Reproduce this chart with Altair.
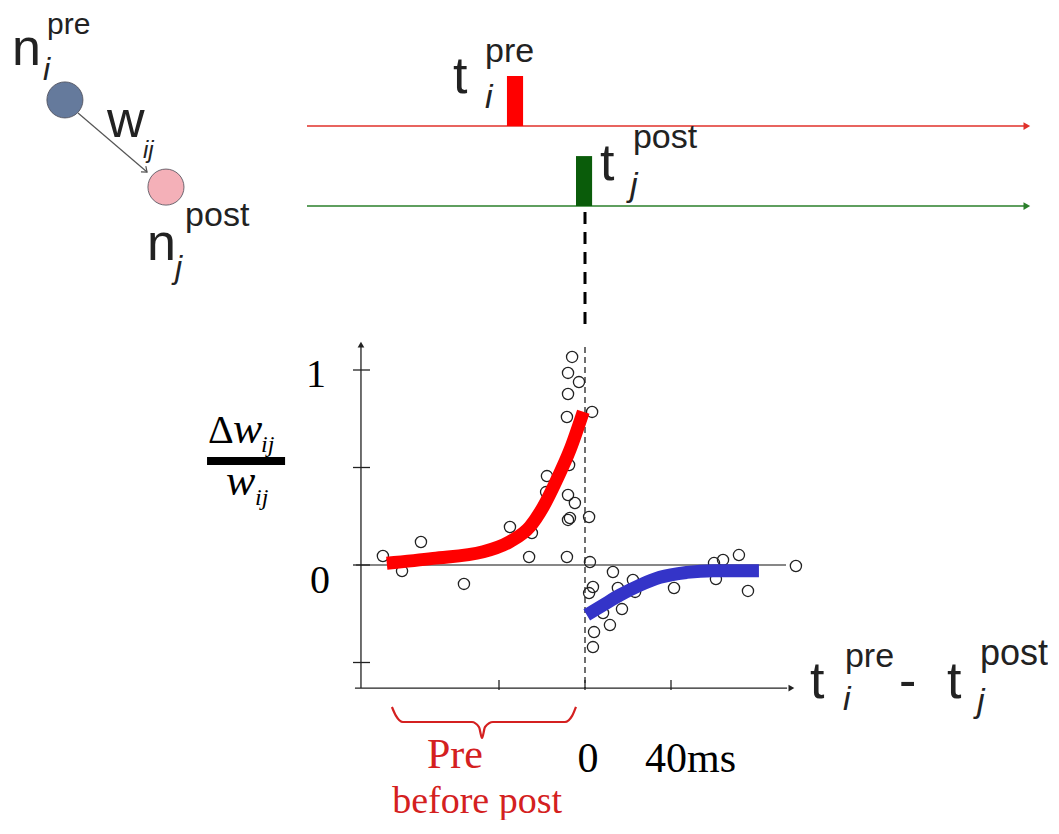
import altair as alt
import pandas as pd

# ---------------- chart data ----------------
# spike-timing difference t_pre - t_post (ms) and relative weight change dw/w
pre_dt = [-94.0, -85.1, -76.3, -56.3, -34.9, -26.0, -24.7, -17.7, -18.1, -8.4,
          -7.9, -7.0, -7.9, -4.7, -7.4, -8.4, -6.0, -7.9, -2.8, -7.9]
pre_dw = [0.046, -0.031, 0.118, -0.097, 0.195, 0.041, 0.164, 0.456, 0.374, 0.041,
          0.231, 0.241, 0.359, 0.318, 0.513, 0.759, 1.067, 0.985, 0.938, 0.877]
post_dt = [3.3, 1.9, 2.3, 3.7, 1.9, 4.2, 3.7, 8.4, 11.6, 13.0, 22.3, 23.3, 15.3,
           17.2, 41.4, 60.0, 64.2, 71.6, 60.9, 75.8, 98.1]
post_dw = [0.785, 0.246, 0.015, -0.113, -0.144, -0.344, -0.421, -0.246, -0.308,
           -0.036, -0.077, -0.138, -0.118, -0.226, -0.118, 0.010, 0.026, 0.051,
           -0.072, -0.133, -0.005]

ltp_dt = [-92.2, -70.6, -47.3, -34.9, -25.6, -19.4, -13.2, -7.0, -0.8]
ltp_dw = [0.009, 0.034, 0.068, 0.120, 0.197, 0.299, 0.436, 0.590, 0.786]
ltd_dt = [0.8, 8.5, 16.3, 25.6, 34.9, 47.3, 59.7, 80.9]
ltd_dw = [-0.256, -0.205, -0.154, -0.103, -0.063, -0.038, -0.029, -0.029]

y_ticks = [1.0, 0.5, 0.0, -0.5]
y_tick_labels = ["1", "0"]
x_ticks = [-40, 0, 40]
x_tick_labels = ["0", "40ms"]

# ---------------- scales (px = 585 + 2.15*ms, py = 565 - 195*v) ----------------
W, H = 1040, 812
XMIN, XMAX = (8 - 585) / 2.15, (8 + W - 585) / 2.15
YMAX, YMIN = (565 - 8) / 195, (565 - 8 - H) / 195
XS = alt.Scale(domain=[XMIN, XMAX], nice=False, zero=False)
YS = alt.Scale(domain=[YMIN, YMAX], nice=False, zero=False)

SANS = "Liberation Sans"
SERIF = "Liberation Serif"


def enc(**extra):
    d = dict(x=alt.X("x:Q", scale=XS, axis=None), y=alt.Y("y:Q", scale=YS, axis=None))
    d.update(extra)
    return d


def seg(x1, y1, x2, y2, color="black", width=1.0, dash=None):
    df = pd.DataFrame({"x": [x1], "y": [y1], "x2": [x2], "y2": [y2]})
    kw = dict(color=color, strokeWidth=width)
    if dash:
        kw["strokeDash"] = dash
    return alt.Chart(df).mark_rule(**kw).encode(**enc(x2="x2:Q", y2="y2:Q"))


def label(x, y, text, size, font=SANS, style="normal", color="#222222", align="left"):
    df = pd.DataFrame({"x": [x], "y": [y], "t": [text]})
    return alt.Chart(df).mark_text(
        align=align, baseline="alphabetic", fontSize=size, font=font,
        fontStyle=style, color=color
    ).encode(**enc(text="t:N"))


def head(x, y, shape, color, size=70, angle=0, filled=True, width=1.2):
    df = pd.DataFrame({"x": [x], "y": [y]})
    kw = dict(shape=shape, size=size, filled=filled, opacity=1, color=color,
              strokeWidth=width)
    if angle:
        kw["angle"] = angle
    return alt.Chart(df).mark_point(**kw).encode(**enc())


def rect(x1, y1, x2, y2, color):
    df = pd.DataFrame({"x": [x1], "y": [y1], "x2": [x2], "y2": [y2]})
    return alt.Chart(df).mark_rect(color=color).encode(**enc(x2="x2:Q", y2="y2:Q"))


layers = []

# ---- neuron schematic ----
layers.append(seg(-235.8, 2.318, -203.7, 2.015, color="#555555", width=1.2))
layers.append(head(-203.7, 2.015, "M-1,-0.8L0,0L-1,0.8", "#555555", size=90,
                   angle=40, filled=False, width=1.2))
neur = pd.DataFrame({"x": [-241.9, -194.9], "y": [2.385, 1.938],
                     "c": ["pre", "post"]})
layers.append(
    alt.Chart(neur).mark_circle(size=1300, opacity=1, stroke="#4a4a55",
                                strokeWidth=0.8)
    .encode(**enc(color=alt.Color("c:N", scale=alt.Scale(domain=["pre", "post"],
                                  range=["#657a9c", "#f4b0b8"]), legend=None)))
)
layers += [
    label(-266.5, 2.564, "n", 52),
    label(-250.2, 2.723, "pre", 30),
    label(-252.1, 2.487, "i", 32, style="italic"),
    label(-222.3, 2.195, "w", 52),
    label(-205.6, 2.087, "ij", 24, style="italic"),
    label(-203.7, 1.564, "n", 52),
    label(-186.0, 1.738, "post", 34),
    label(-190.7, 1.472, "j", 32, style="italic"),
]

# ---- spike trains ----
layers.append(seg(-129.3, 2.251, 205.0, 2.251, color="#e0302a", width=1.5))
layers.append(head(205.5, 2.251, "triangle-right", "#e0302a", size=60))
layers.append(rect(-36.3, 2.251, -28.8, 2.508, "#ff0000"))
layers += [
    label(-61.4, 2.421, "t", 52),
    label(-46.5, 2.579, "pre", 34),
    label(-46.5, 2.344, "i", 34, style="italic"),
]
layers.append(seg(-129.3, 1.841, 205.0, 1.841, color="#2a7f2a", width=1.5))
layers.append(head(205.5, 1.841, "triangle-right", "#2a7f2a", size=60))
layers.append(rect(-4.2, 1.841, 3.3, 2.097, "#0a5c0a"))
layers += [
    label(7.0, 1.974, "t", 52),
    label(22.3, 2.138, "post", 34),
    label(20.9, 1.892, "j", 34, style="italic"),
]
layers.append(seg(0, 1.810, 0, 1.205, color="black", width=3, dash=[12, 8]))

# ---- plot frame ----
layers.append(seg(-104.2, -0.631, -104.2, 1.118, color="#222222", width=1.3))
layers.append(head(-104.2, 1.13, "triangle-up", "#222222", size=45))
layers.append(seg(-107.0, -0.631, 94.0, -0.631, color="#222222", width=1.3))
layers.append(head(96.0, -0.631, "triangle-right", "#222222", size=45))
layers.append(seg(-106.5, 0, 93.5, 0, color="#111111", width=1.1))
layers.append(seg(0, 1.118, 0, -0.631, color="#222222", width=1.3, dash=[6, 4]))

yt = pd.DataFrame({"y": y_ticks})
layers.append(
    alt.Chart(yt).mark_rule(color="#222222", strokeWidth=1.3)
    .encode(x=alt.X("a:Q", scale=XS, axis=None), x2="b:Q",
            y=alt.Y("y:Q", scale=YS, axis=None))
    .transform_calculate(a="-107.9", b="-100.0")
)
xt = pd.DataFrame({"x": x_ticks})
layers.append(
    alt.Chart(xt).mark_rule(color="#222222", strokeWidth=1.3)
    .encode(x=alt.X("x:Q", scale=XS, axis=None),
            y=alt.Y("a:Q", scale=YS, axis=None), y2="b:Q")
    .transform_calculate(a="-0.590", b="-0.641")
)

# ---- data ----
pts = pd.DataFrame({"x": pre_dt + post_dt, "y": pre_dw + post_dw})
layers.append(
    alt.Chart(pts).mark_point(shape="circle", size=125, filled=False,
                              color="#222222", strokeWidth=1.3, opacity=1)
    .encode(**enc())
)
ltp = pd.DataFrame({"x": ltp_dt, "y": ltp_dw})
layers.append(alt.Chart(ltp).mark_line(color="#ff0000", strokeWidth=13,
                                       interpolate="monotone", strokeCap="butt")
              .encode(**enc()))
ltd = pd.DataFrame({"x": ltd_dt, "y": ltd_dw})
layers.append(alt.Chart(ltd).mark_line(color="#3434c8", strokeWidth=13,
                                       interpolate="monotone", strokeCap="butt")
              .encode(**enc()))

# ---- axis labels ----
layers += [
    label(-120.5, 0.913, y_tick_labels[0], 40, font=SERIF, color="black", align="right"),
    label(-118.6, -0.144, y_tick_labels[1], 40, font=SERIF, color="black", align="right"),
    label(1.4, -1.062, x_tick_labels[0], 42, font=SERIF, color="black", align="center"),
    label(27.9, -1.062, x_tick_labels[1], 42, font=SERIF, color="black"),
    # dw/w fraction
    label(-175.3, 0.626, "\u0394", 40, font=SERIF, color="black"),
    label(-163.7, 0.626, "w", 44, font=SERIF, style="italic", color="black"),
    label(-150.7, 0.580, "ij", 24, font=SERIF, style="italic", color="black"),
    rect(-175.8, 0.554, -139.5, 0.513, "black"),
    label(-167.0, 0.359, "w", 44, font=SERIF, style="italic", color="black"),
    label(-153.5, 0.310, "ij", 24, font=SERIF, style="italic", color="black"),
    # t_pre - t_post
    label(104.7, -0.682, "t", 52),
    label(120.9, -0.523, "pre", 34),
    label(120.0, -0.744, "i", 34, style="italic"),
    label(146.0, -0.682, "-", 52),
    label(168.4, -0.682, "t", 52),
    label(183.7, -0.513, "post", 36),
    label(182.3, -0.754, "j", 34, style="italic"),
]

# ---- "Pre before post" brace ----
brace = pd.DataFrame({
    "x": [-89.8, -87.9, -84.7, -52.6, -49.3, -47.9, -46.5, -42.8, -9.3, -6.0, -4.2],
    "y": [-0.728, -0.774, -0.805, -0.805, -0.831, -0.887, -0.831, -0.805, -0.805,
          -0.774, -0.728],
})
layers.append(alt.Chart(brace).mark_line(color="#d42020", strokeWidth=2.2,
                                         interpolate="monotone").encode(**enc()))
layers += [
    label(-60.5, -1.041, "Pre", 42, font=SERIF, color="#d42020", align="center"),
    label(-50.2, -1.272, "before post", 38, font=SERIF, color="#d42020", align="center"),
]

chart = alt.layer(*layers).properties(
    width=W, height=H, padding=0, autosize=alt.AutoSizeParams(type="none"),
    background="white",
).configure_view(stroke=None)

chart.save("out.html", embed_options={"renderer": "svg", "actions": False})
